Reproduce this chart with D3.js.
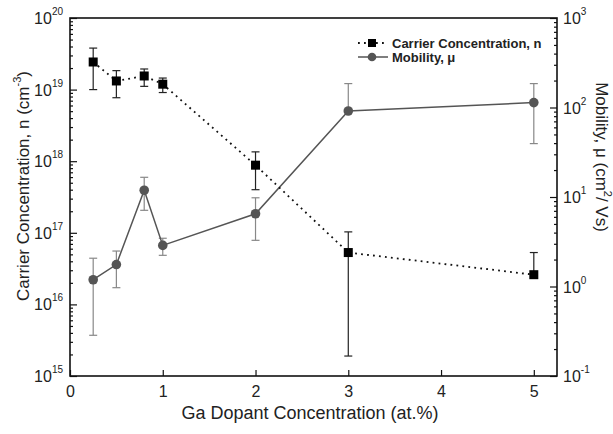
<!DOCTYPE html>
<html>
<head>
<meta charset="utf-8">
<script src="https://cdn.jsdelivr.net/npm/d3@7"></script>
<style>
  body { margin: 0; background: #fff; }
  svg { font-family: Arial, "Liberation Sans", sans-serif; }
</style>
</head>
<body>
<svg id="chart" width="613" height="434"></svg>
<script>
// ----------------------------
// Data
// ----------------------------
var gaConc = [0.25, 0.5, 0.8, 1, 2, 3, 5];

// Carrier concentration, n (cm^-3)
var carrier   = [2.43e19, 1.32e19, 1.55e19, 1.19e19, 8.8e17, 5.3e16, 2.6e16];
var carrierHi = [3.8e19, 1.84e19, 1.94e19, 1.45e19, 1.35e18, 1.03e17, 5.3e16];
var carrierLo = [1.0e19, 7.7e18, 1.11e19, 9.1e18, 4.0e17, 1.9e15, 2.6e16];

// Mobility, mu (cm^2/Vs)
var mobility   = [1.19, 1.76, 11.9, 2.88, 6.5, 91.4, 113.5];
var mobilityHi = [2.07, 2.49, 16.6, 3.46, 9.8, 185, 185];
var mobilityLo = [0.285, 0.97, 7.1, 2.23, 3.28, 91.4, 39.5];

var xTicks = [0, 1, 2, 3, 4, 5];
var xMinorTicks = [0.5, 1.5, 2.5, 3.5, 4.5];
var leftDecades = [15, 16, 17, 18, 19, 20];
var rightDecades = [-1, 0, 1, 2, 3];

// ----------------------------
// Layout
// ----------------------------
var margin = {left: 70, right: 56, top: 18, bottom: 58};
var W = 613, H = 434;
var x0 = margin.left, x1 = W - margin.right;
var y0 = margin.top, y1 = H - margin.bottom;

var svg = d3.select("#chart");
svg.append("rect").attr("width", W).attr("height", H).attr("fill", "#fff");

var x = d3.scaleLinear().domain([0, 5.25]).range([x0, x1]);
var yLeft = d3.scaleLog().domain([1e15, 1e20]).range([y1, y0]);
var yRight = d3.scaleLog().domain([0.1, 1000]).range([y1, y0]);

// minor tick values for the log axes
function minorValues(decades) {
    var vals = [];
    decades.slice(0, -1).forEach(function (e) {
        for (var m = 2; m <= 9; m++) vals.push(m * Math.pow(10, e));
    });
    return vals;
}

// ----------------------------
// Axes (ticks pointing inwards)
// ----------------------------
var gx = svg.append("g").attr("transform", "translate(0," + y1 + ")");
gx.call(d3.axisBottom(x).tickValues(xMinorTicks).tickSizeInner(-3).tickSizeOuter(0).tickFormat(""));
gx.call(d3.axisBottom(x).tickValues(xTicks).tickSizeInner(-6).tickSizeOuter(0).tickPadding(10).tickFormat(d3.format("d")));
gx.selectAll("text").attr("font-size", 16).attr("fill", "#222").attr("font-family", "Arial, 'Liberation Sans', sans-serif");

var gl = svg.append("g").attr("transform", "translate(" + x0 + ",0)");
gl.append("g").call(d3.axisLeft(yLeft).tickValues(minorValues(leftDecades)).tickSizeInner(-3).tickSizeOuter(0).tickFormat(""));
gl.append("g").call(d3.axisLeft(yLeft).tickValues(leftDecades.map(function (e) { return Math.pow(10, e); }))
    .tickSizeInner(-7).tickSizeOuter(0).tickFormat(""));

var gr = svg.append("g").attr("transform", "translate(" + x1 + ",0)");
gr.append("g").call(d3.axisRight(yRight).tickValues(minorValues(rightDecades)).tickSizeInner(-3).tickSizeOuter(0).tickFormat(""));
gr.append("g").call(d3.axisRight(yRight).tickValues(rightDecades.map(function (e) { return Math.pow(10, e); }))
    .tickSizeInner(-7).tickSizeOuter(0).tickFormat(""));

svg.selectAll(".domain").remove();
svg.selectAll(".tick line").attr("stroke", "#111").attr("stroke-width", 1.2);

// frame
svg.append("rect")
    .attr("x", x0).attr("y", y0).attr("width", x1 - x0).attr("height", y1 - y0)
    .attr("fill", "none").attr("stroke", "#111").attr("stroke-width", 1.6);

// power-of-ten labels
function powLabel(g, xPos, yPos, exp, anchor) {
    var t = g.append("text")
        .attr("x", xPos).attr("y", yPos + 6)
        .attr("text-anchor", anchor)
        .attr("font-size", 16).attr("fill", "#222");
    t.append("tspan").text("10");
    t.append("tspan").attr("dy", -9).attr("font-size", 10).text(exp);
}
leftDecades.forEach(function (e) {
    powLabel(svg, 63, yLeft(Math.pow(10, e)), e, "end");
});
rightDecades.forEach(function (e) {
    powLabel(svg, 563, yRight(Math.pow(10, e)), e, "start");
});

// ----------------------------
// Axis titles
// ----------------------------
var leftTitle = svg.append("text")
    .attr("transform", "translate(29," + 186 + ") rotate(-90)")
    .attr("text-anchor", "middle").attr("font-size", 17).attr("fill", "#222");
leftTitle.append("tspan").text("Carrier Concentration, n (cm");
leftTitle.append("tspan").attr("dy", -8).attr("font-size", 11).text("-3");
leftTitle.append("tspan").attr("dy", 8).text(")");

var rightTitle = svg.append("text")
    .attr("transform", "translate(596," + 157 + ") rotate(90)")
    .attr("text-anchor", "middle").attr("font-size", 17).attr("fill", "#222");
rightTitle.append("tspan").text("Mobility, \u03bc  (cm");
rightTitle.append("tspan").attr("dy", -8).attr("font-size", 11).text("2");
rightTitle.append("tspan").attr("dy", 8).text("/ Vs)");

svg.append("text")
    .attr("x", 310).attr("y", 419)
    .attr("text-anchor", "middle").attr("font-size", 18).attr("fill", "#222")
    .text("Ga Dopant Concentration (at.%)");

// ----------------------------
// Series
// ----------------------------
var mobColor = "#555", mobBar = "#888";
var capW = 4;

function errorBars(vals, lo, hi, yScale, color, cls) {
    var g = svg.append("g").attr("class", cls);
    gaConc.forEach(function (c, i) {
        var xc = x(c), yt = yScale(hi[i]), yb = yScale(lo[i]);
        g.append("line").attr("x1", xc).attr("x2", xc).attr("y1", yt).attr("y2", yb)
            .attr("stroke", color).attr("stroke-width", 1.2);
        if (hi[i] > vals[i]) {
            g.append("line").attr("x1", xc - capW).attr("x2", xc + capW).attr("y1", yt).attr("y2", yt)
                .attr("stroke", color).attr("stroke-width", 1.2);
        }
        if (lo[i] < vals[i]) {
            g.append("line").attr("x1", xc - capW).attr("x2", xc + capW).attr("y1", yb).attr("y2", yb)
                .attr("stroke", color).attr("stroke-width", 1.2);
        }
    });
}

// Mobility
errorBars(mobility, mobilityLo, mobilityHi, yRight, mobBar, "mob-err");
var mobLine = d3.line().x(function (d, i) { return x(gaConc[i]); }).y(function (d) { return yRight(d); });
svg.append("path").datum(mobility).attr("d", mobLine)
    .attr("fill", "none").attr("stroke", mobColor).attr("stroke-width", 1.5);
svg.selectAll(".mob-pt").data(mobility).enter().append("circle")
    .attr("class", "mob-pt")
    .attr("cx", function (d, i) { return x(gaConc[i]); })
    .attr("cy", function (d) { return yRight(d); })
    .attr("r", 4.8).attr("fill", mobColor);

// Carrier concentration
errorBars(carrier, carrierLo, carrierHi, yLeft, "#222", "car-err");
var carLine = d3.line().x(function (d, i) { return x(gaConc[i]); }).y(function (d) { return yLeft(d); });
svg.append("path").datum(carrier).attr("d", carLine)
    .attr("fill", "none").attr("stroke", "#111").attr("stroke-width", 1.8)
    .attr("stroke-dasharray", "1.8,4.2");
svg.selectAll(".car-pt").data(carrier).enter().append("rect")
    .attr("class", "car-pt")
    .attr("x", function (d, i) { return x(gaConc[i]) - 4.5; })
    .attr("y", function (d) { return yLeft(d) - 4.5; })
    .attr("width", 9).attr("height", 9).attr("fill", "#000");

// ----------------------------
// Legend
// ----------------------------
var legend = svg.append("g").attr("font-size", 13).attr("font-weight", "bold").attr("fill", "#222");
var lx0 = 358, lx1 = 388, lxm = 372;
legend.append("line").attr("x1", lx0).attr("x2", lx1).attr("y1", 43).attr("y2", 43)
    .attr("stroke", "#111").attr("stroke-width", 1.8).attr("stroke-dasharray", "1.8,4.2");
legend.append("rect").attr("x", lxm - 4).attr("y", 39).attr("width", 8).attr("height", 8).attr("fill", "#000");
legend.append("text").attr("x", 392).attr("y", 48).text("Carrier Concentration, n");

legend.append("line").attr("x1", lx0).attr("x2", lx1).attr("y1", 57).attr("y2", 57)
    .attr("stroke", mobColor).attr("stroke-width", 1.5);
legend.append("circle").attr("cx", lxm).attr("cy", 57).attr("r", 4.3).attr("fill", mobColor);
legend.append("text").attr("x", 392).attr("y", 62).text("Mobility, \u03bc");
</script>
</body>
</html>
